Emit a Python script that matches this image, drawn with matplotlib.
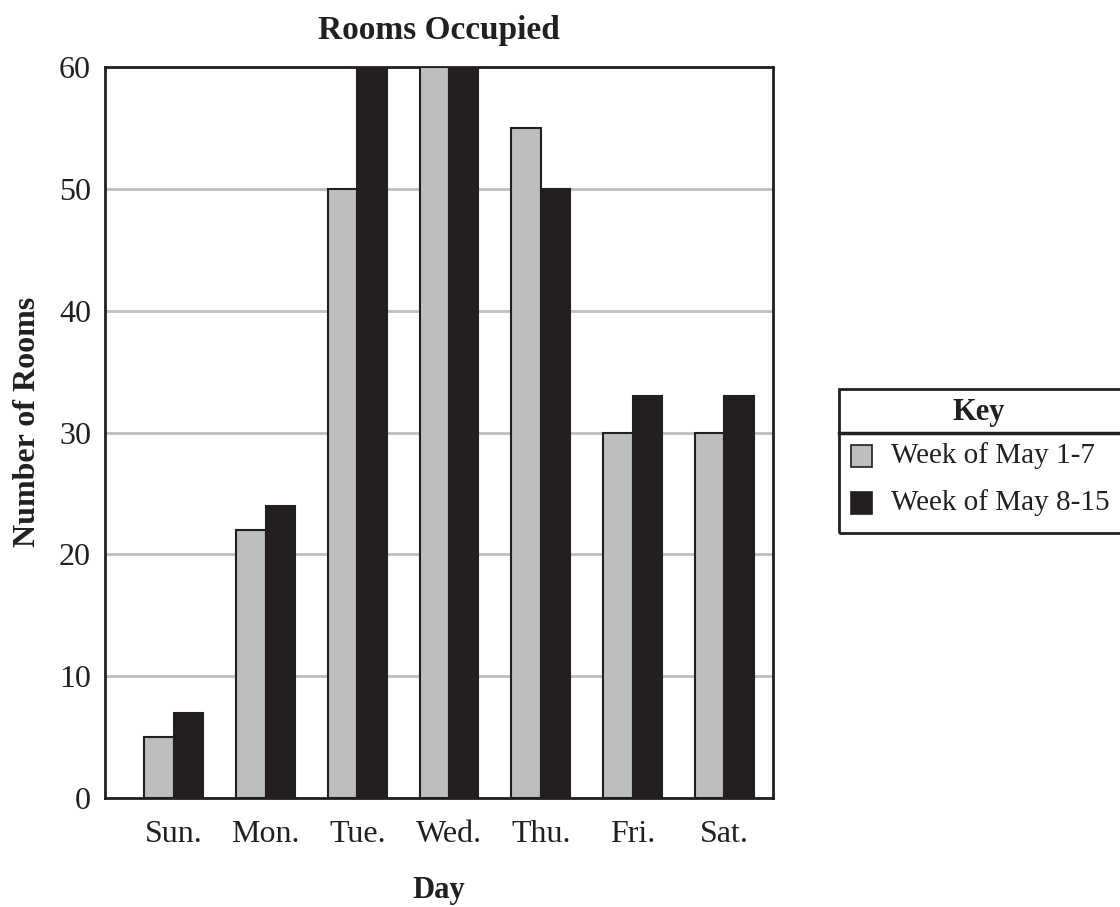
import matplotlib
matplotlib.use("Agg")
import matplotlib.pyplot as plt
from matplotlib.patches import Rectangle
import numpy as np

days = ["Sun.", "Mon.", "Tue.", "Wed.", "Thu.", "Fri.", "Sat."]
week1 = [5, 22, 50, 60, 55, 30, 30]
week2 = [7, 24, 60, 60, 50, 33, 33]
series_labels = ["Week of May 1-7", "Week of May 8-15"]
yticks = [0, 10, 20, 30, 40, 50, 60]

GRAY = "#BCBEC0"
BLACK = "#231F20"
plt.rcParams['font.family'] = ['Liberation Serif', 'DejaVu Serif']

fig = plt.figure(figsize=(11.2, 9.07), dpi=100)
ax = fig.add_axes([105/1120, 1-798/907, (773-105)/1120, (798-67)/907])

x = np.arange(len(days))
w = 0.32
ax.bar(x - w/2, week1, w, color=GRAY, edgecolor=BLACK, linewidth=1.5, zorder=3)
ax.bar(x + w/2, week2, w, color=BLACK, edgecolor=BLACK, linewidth=1.5, zorder=3)

ax.set_xlim(-0.75, 6.53)
ax.set_ylim(0, 60)
ax.set_yticks(yticks)
ax.set_xticks(x)
ax.set_xticklabels(days)
ax.tick_params(length=0, labelsize=23)
ax.tick_params(axis='y', pad=10)
ax.tick_params(axis='x', pad=16)
ax.yaxis.grid(True, color=GRAY, linewidth=2, zorder=0)
ax.set_axisbelow(True)
for s in ax.spines.values():
    s.set_color(BLACK)
    s.set_linewidth(2)
ax.set_title("Rooms Occupied", fontsize=24, fontweight='bold', pad=20, color=BLACK)
ax.set_xlabel("Day", fontsize=22, fontweight='bold', labelpad=19, color=BLACK)
ax.set_ylabel("Number of Rooms", fontsize=23, fontweight='bold', color=BLACK)
ax.yaxis.set_label_coords(-0.094, 0.515)
for t in ax.get_xticklabels() + ax.get_yticklabels():
    t.set_color(BLACK)

# Key box (figure pixel coords)
def fx(px): return px/1120
def fy(py): return 1 - py/907
box_l, box_t, box_sep, box_b = 839, 389, 433, 533
fig.add_artist(Rectangle((fx(box_l), fy(box_b)), fx(1125-box_l), fy(box_t)-fy(box_b),
                         transform=fig.transFigure, fill=False, edgecolor=BLACK, linewidth=2, clip_on=False))
fig.add_artist(plt.Line2D([fx(box_l), fx(1125)], [fy(box_sep), fy(box_sep)],
                          transform=fig.transFigure, color=BLACK, linewidth=2.5))
fig.text(fx(979), fy(412), "Key", ha='center', va='center', fontsize=22, fontweight='bold', color=BLACK)
colors = [GRAY, BLACK]
rows = [456, 503]
for lab, c, ry in zip(series_labels, colors, rows):
    fig.add_artist(Rectangle((fx(851), fy(ry+11)), fx(21), fy(ry-11)-fy(ry+11),
                             transform=fig.transFigure, facecolor=c, edgecolor=BLACK, linewidth=1.2))
    fig.text(fx(891), fy(ry), lab, ha='left', va='center', fontsize=21, color=BLACK)

fig.savefig("out.png", dpi=100)
